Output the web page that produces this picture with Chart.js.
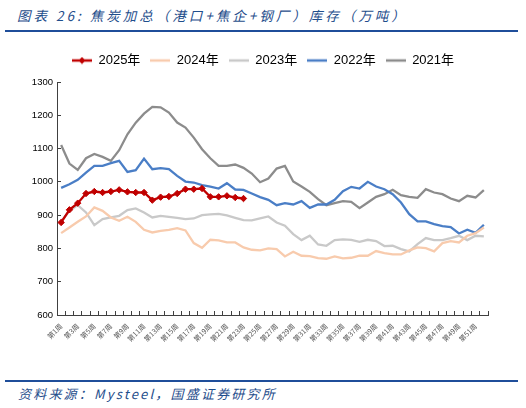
<!DOCTYPE html>
<html>
<head>
<meta charset="utf-8">
<script src="https://cdn.jsdelivr.net/npm/chart.js@4.4.1/dist/chart.umd.min.js"></script>
<style>
  html, body { margin: 0; padding: 0; background: #fff; }
  body { width: 526px; height: 408px; position: relative; overflow: hidden; }
  #title {
    position: absolute; left: 17px; top: 5px;
    font: italic 13.5px "Noto Sans CJK SC", sans-serif; letter-spacing: 3px;
    color: #1f4e8c; white-space: nowrap;
  }
  .rule { position: absolute; left: 5px; width: 513px; height: 2px; background: #1f4e9a; }
  #source {
    position: absolute; left: 18px; top: 384px;
    font: italic 13px "Noto Sans CJK SC", sans-serif; letter-spacing: 2.2px;
    color: #1f4e8c; white-space: nowrap;
  }
  #wrap { position: absolute; left: 0; top: 34px; width: 526px; height: 344px; }
</style>
</head>
<body>
<div id="title">图表 26:  焦炭加总（港口+焦企+钢厂）库存（万吨）</div>
<div class="rule" style="top:30px"></div>
<div id="wrap"><canvas id="myChart"></canvas></div>
<div class="rule" style="top:380px"></div>
<div id="source">资料来源：Mysteel，国盛证券研究所</div>
<script>
const ctx = document.getElementById('myChart');

const weeks = Array.from({length: 52}, (_, i) => `第${i + 1}周`);
const yTicks = [600, 700, 800, 900, 1000, 1100, 1200, 1300];

const y2025 = [878, 916, 936, 965, 971, 968, 971, 976, 970, 968, 968, 945, 954, 956, 965, 978, 978, 980, 955, 955, 958, 953, 950];
const y2024 = [846, 863, 880, 896, 923, 913, 893, 883, 895, 880, 856, 848, 853, 856, 861, 854, 816, 802, 826, 824, 818, 818, 803, 796, 794, 800,
  798, 776, 790, 778, 777, 771, 769, 776, 770, 772, 778, 778, 792, 786, 782, 782, 794, 803, 801, 791, 816, 822, 818, 838, 846, 863];
const y2023 = [880, 913, 930, 908, 870, 888, 893, 898, 915, 920, 908, 893, 898, 895, 892, 888, 890, 900, 902, 904, 899, 892, 885, 884, 890, 896,
  878, 868, 843, 825, 838, 812, 808, 825, 827, 826, 820, 826, 822, 807, 808, 798, 791, 813, 831, 825, 825, 831, 838, 825, 838, 836];
const y2022 = [982, 993, 1006, 1028, 1048, 1048, 1056, 1063, 1030, 1035, 1070, 1038, 1041, 1038, 1018, 1001, 998, 990, 986, 980, 996, 977, 976, 965, 954, 946,
  930, 936, 932, 942, 922, 932, 932, 946, 972, 985, 980, 1000, 986, 978, 963, 938, 903, 881, 881, 873, 867, 864, 845, 856, 847, 871];
const y2021 = [1111, 1055, 1036, 1071, 1084, 1075, 1063, 1095, 1143, 1178, 1205, 1225, 1224, 1208, 1178, 1163, 1133, 1098, 1071, 1048, 1048, 1052, 1042, 1025, 999, 1010,
  1040, 1048, 1001, 986, 970, 948, 930, 936, 942, 940, 921, 938, 955, 963, 976, 960, 955, 952, 978, 968, 963, 950, 942, 958, 953, 975];

const colors = ['#c00000', '#f8cbad', '#c9c9c9', '#4a7ec6', '#8c8c8c'];
const names = ['2025年', '2024年', '2023年', '2022年', '2021年'];
const series = [y2025, y2024, y2023, y2022, y2021];

// legend swatch: short line, with a diamond for the marker series
function swatch(color, marker) {
  const c = document.createElement('canvas');
  c.width = 20; c.height = 8;
  const g = c.getContext('2d');
  g.strokeStyle = color; g.lineWidth = 2.5;
  g.beginPath(); g.moveTo(0, 4); g.lineTo(20, 4); g.stroke();
  if (marker) {
    g.fillStyle = color;
    g.beginPath(); g.moveTo(10, 0.5); g.lineTo(13.5, 4); g.lineTo(10, 7.5); g.lineTo(6.5, 4); g.closePath(); g.fill();
  }
  return c;
}

// extra room under the legend, and centre it on the whole page
const legendGap = {
  id: 'legendGap',
  beforeInit(chart) {
    const fit = chart.legend.fit;
    chart.legend.fit = function () {
      fit.bind(chart.legend)();
      this.height += 5;
    };
  },
  afterLayout(chart) {
    chart.legend.left += 19;
    chart.legend.right += 19;
  }
};

const datasets = series.map((data, i) => ({
  label: names[i],
  data: data,
  borderColor: colors[i],
  backgroundColor: colors[i],
  borderWidth: 2.3,
  pointRadius: i === 0 ? 3.2 : 0,
  pointStyle: 'rectRot',
  pointBorderWidth: 1,
  pointBorderColor: colors[i],
  tension: 0,
}));

new Chart(ctx, {
  type: 'line',
  data: {labels: weeks, datasets},
  plugins: [legendGap],
  options: {
    responsive: true,
    maintainAspectRatio: false,
    animation: false,
    layout: {padding: {left: 0, right: 38, top: 10, bottom: 0}},
    plugins: {
      legend: {
        position: 'top',
        labels: {
          usePointStyle: true,
          pointStyleWidth: 20,
          boxWidth: 20,
          padding: 10,
          color: '#000',
          font: {family: 'Liberation Sans, Arial, "Noto Sans CJK SC"', size: 13},
          generateLabels: chart => chart.data.datasets.map((ds, i) => ({
            text: ds.label,
            pointStyle: swatch(colors[i], i === 0),
            fillStyle: colors[i],
            strokeStyle: colors[i],
            lineWidth: 0,
            fontColor: '#000',
            datasetIndex: i,
          })),
        },
      },
      tooltip: {enabled: false},
    },
    scales: {
      x: {
        offset: true,
        afterFit: scale => { scale.height = 63; },
        grid: {display: true, drawOnChartArea: false, offset: true, tickLength: -4, color: '#404040', lineWidth: 1},
        border: {color: '#404040', width: 1},
        ticks: {
          autoSkip: false,
          maxRotation: 45,
          minRotation: 45,
          padding: 11,
          color: '#595959',
          font: {family: '"Noto Sans CJK SC", sans-serif', size: 7},
          callback: (v, i) => (i % 2 === 0 ? weeks[i] : ''),
        },
      },
      y: {
        min: 600,
        max: 1300,
        afterFit: scale => { scale.width = 57; },
        afterBuildTicks: scale => { scale.ticks = yTicks.map(v => ({value: v})); },
        grid: {display: true, drawOnChartArea: false, tickLength: -4, color: '#404040', lineWidth: 1},
        border: {color: '#404040', width: 1},
        ticks: {
          padding: 8,
          color: '#000',
          font: {family: 'Liberation Sans, Arial, sans-serif', size: 9.5},
          callback: v => String(v),
        },
      },
    },
  },
});
</script>
</body>
</html>
